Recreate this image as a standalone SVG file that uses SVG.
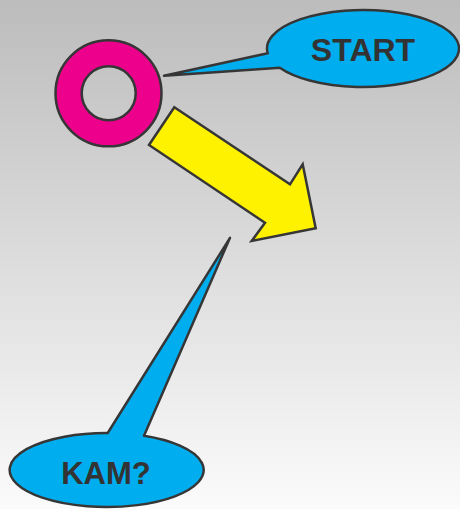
<svg xmlns="http://www.w3.org/2000/svg" width="460" height="509" viewBox="0 0 460 509">
  <defs>
    <linearGradient id="bg" x1="0" y1="0" x2="0" y2="1">
      <stop offset="0" stop-color="#bcbcbc"/>
      <stop offset="1" stop-color="#fbfbfb"/>
    </linearGradient>
    <style>
      .shape { stroke: #363636; stroke-width: 2.5; stroke-linejoin: miter; stroke-miterlimit: 4; }
      .callout { fill: #00aeef; stroke-linejoin: round; }
      .lbl { font-family: "Liberation Sans", Arial, sans-serif; font-weight: bold; fill: #333333; text-anchor: middle; }
    </style>
  </defs>
  <rect x="0" y="0" width="460" height="509" fill="url(#bg)"/>

  <g id="ring">
    <path class="shape" fill="#ec008c" fill-rule="evenodd"
      d="M 55.5,93.3 A 53,53 0 1 0 161.5,93.3 A 53,53 0 1 0 55.5,93.3 Z M 81.7,93.3 A 27,27 0 1 1 135.7,93.3 A 27,27 0 1 1 81.7,93.3 Z"/>
  </g>

  <g id="start">
    <path class="shape callout" d="M 267.75,53.3 L 164,75.8 L 279.8,67.7 A 96 38.5 0 1 0 267.75,53.3 Z"/>
    <text class="lbl" x="363" y="61" font-size="32">START</text>
  </g>

  <g id="connectors">
    <path id="arrow" class="shape" fill="#fff200"
      d="M 174.3,107.3 L 290,184.3 L 302.7,164.3 L 315.7,228.3 L 251.7,241 L 265,222.7 L 149,145 Z"/>
  </g>

  <g id="kam">
    <path class="shape callout" d="M 107.7,433 L 230,237.8 L 144,435.85 A 97 37 0 1 1 107.7,433 Z"/>
    <text class="lbl" x="106" y="483.5" font-size="31">KAM?</text>
  </g>
</svg>
